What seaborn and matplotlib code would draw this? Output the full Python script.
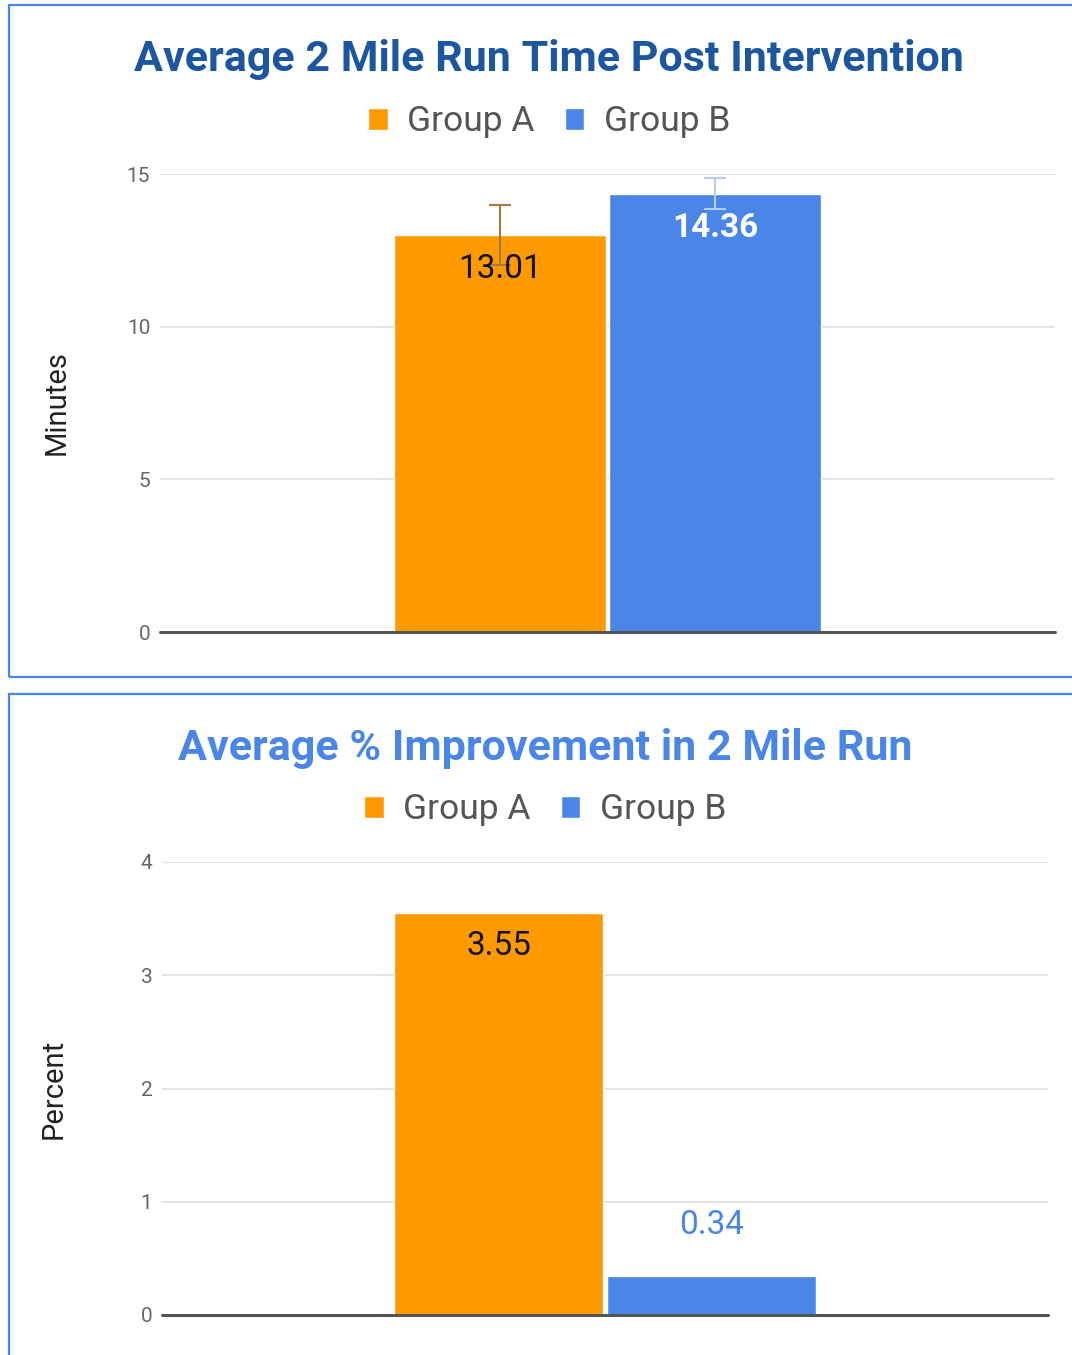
import matplotlib
matplotlib.use("Agg")
import matplotlib.pyplot as plt
import seaborn as sns
import pandas as pd
from matplotlib.patches import Rectangle

# ---- data ----
groups = ["Group A", "Group B"]
run_time = [13.01, 14.36]
run_time_err = [0.98, 0.50]
improvement = [3.55, 0.34]
time_ticks = [0, 5, 10, 15]
pct_ticks = [0, 1, 2, 3, 4]

title_top = "Average 2 Mile Run Time Post Intervention"
title_bot = "Average % Improvement in 2 Mile Run"

ORANGE = "#ff9900"
BLUE = "#4a86e8"
palette = {"Group A": ORANGE, "Group B": BLUE}

sns.set_theme(style="white")
plt.rcParams["font.family"] = ["Roboto", "DejaVu Sans"]

W, H = 1072, 1355
fig = plt.figure(figsize=(W / 100, H / 100), dpi=100)

def px_axes(l, t, r, b):
    return fig.add_axes([l / W, 1 - b / H, (r - l) / W, (b - t) / H])

ax1 = px_axes(160, 174, 1055, 632)
ax2 = px_axes(162, 862, 1048, 1315)

df1 = pd.DataFrame({"cat": ["x", "x"], "group": groups, "value": run_time})
df2 = pd.DataFrame({"cat": ["x", "x"], "group": groups, "value": improvement})

sns.barplot(data=df1, x="cat", y="value", hue="group", palette=palette,
            width=0.48, gap=0.015, saturation=1, ax=ax1, legend=True)
sns.barplot(data=df2, x="cat", y="value", hue="group", palette=palette,
            width=0.48, gap=0.015, saturation=1, ax=ax2, legend=False)

# error bars on top chart
err_colors = ["#a47a3c", "#b9cbeb"]
bars1 = [p for p in ax1.patches if p.get_height() > 0][:2]
for p, e, c in zip(bars1, run_time_err, err_colors):
    xc = p.get_x() + p.get_width() / 2
    ax1.errorbar(xc, p.get_height(), yerr=e, color=c, lw=1.5,
                 capsize=8, capthick=1.5, zorder=3)

def style_axes(ax, ticks, ylabel, label_x):
    ax.set_xlim(-0.5, 0.5)
    ax.set_ylim(ticks[0], ticks[-1])
    ax.set_yticks(ticks)
    ax.set_xticks([])
    ax.set_xlabel("")
    ax.set_ylabel(ylabel, fontsize=21, color="#222222")
    ax.yaxis.set_label_coords(label_x, 0.5)
    ax.tick_params(axis="y", length=0, pad=7, labelsize=15, labelcolor="#666666")
    for s in ax.spines.values():
        s.set_visible(False)
    ax.grid(axis="y", color="#dedede", lw=1.2, zorder=0)
    ax.set_axisbelow(True)
    ax.axhline(0, color="#555555", lw=2.2, zorder=4, clip_on=False)

style_axes(ax1, time_ticks, "Minutes", -0.100)
style_axes(ax2, pct_ticks, "Percent", -0.106)

# value labels
def label(ax, bars, vals, styles):
    for p, v, st in zip(bars, vals, styles):
        xc = p.get_x() + p.get_width() / 2
        color, weight, offset = st
        ax.annotate(f"{v:.2f}", (xc, p.get_height()), xytext=(0, offset),
                    textcoords="offset points", ha="center", va="center",
                    fontsize=24, color=color, fontweight=weight, zorder=5)

label(ax1, bars1, run_time, [("#111111", "normal", -25), ("white", "bold", -25)])
bars2 = [p for p in ax2.patches if p.get_height() > 0][:2]
label(ax2, bars2, improvement, [("#111111", "normal", -24), (BLUE, "normal", 37)])

# titles
fig.text(549 / W, 1 - 60 / H, title_top, ha="center", va="center",
         fontsize=31, fontweight="bold", color="#1c56a0")
fig.text(545 / W, 1 - 749 / H, title_bot, ha="center", va="center",
         fontsize=31, fontweight="bold", color=BLUE)

# legends
handles, labels = ax1.get_legend_handles_labels()
ax1.get_legend().remove()
for yc, xc in [(122, 549), (810, 545)]:
    fig.legend(handles, labels, loc="center", bbox_to_anchor=(xc / W, 1 - yc / H),
               ncol=2, frameon=False, fontsize=25.5, labelcolor="#555555",
               handlelength=0.55, handleheight=0.55, handletextpad=0.55,
               columnspacing=0.85)

# panel borders
fig.patches.append(Rectangle((9 / W, 1 - 677 / H), 1.2, (677 - 5) / H,
                             transform=fig.transFigure, fill=False,
                             ec=BLUE, lw=1.6, clip_on=False))
fig.patches.append(Rectangle((9 / W, -0.2), 1.2, 0.2 + (1355 - 694) / H,
                             transform=fig.transFigure, fill=False,
                             ec=BLUE, lw=1.6, clip_on=False))

fig.savefig("out.png", dpi=100)
